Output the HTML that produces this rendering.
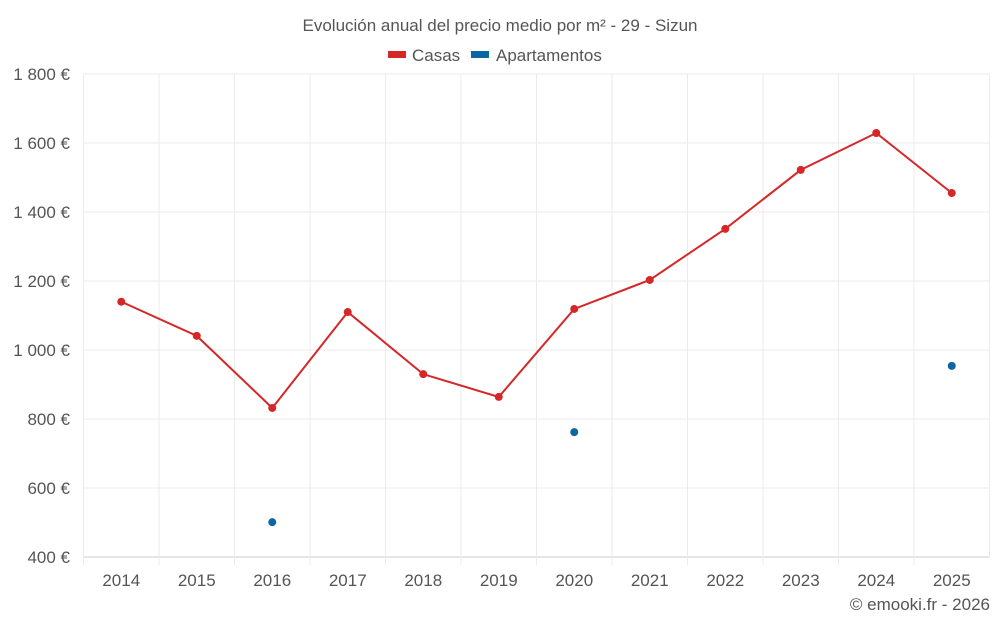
<!DOCTYPE html>
<html><head><meta charset="utf-8"><style>
body{margin:0;background:#fff;font-family:"Liberation Sans",sans-serif}
svg text{font-family:"Liberation Sans",sans-serif;fill:#555}
</style></head><body>
<svg id="chart" width="1000" height="625">
<text x="500" y="31" text-anchor="middle" font-size="17">Evolución anual del precio medio por m² - 29 - Sizun</text>
<g>
<rect x="388" y="51" width="18" height="7" fill="#d62728"/>
<text x="412" y="61" font-size="17">Casas</text>
<rect x="471" y="51" width="18" height="7" fill="#0b66a3"/>
<text x="496" y="61" font-size="17">Apartamentos</text>
</g>
<g id="grid"></g><g id="axes"></g><g id="series"></g>
<text x="990" y="610" text-anchor="end" font-size="17">© emooki.fr - 2026</text>
</svg>
<script>
const years=["2014","2015","2016","2017","2018","2019","2020","2021","2022","2023","2024","2025"];
const casas=[1140,1041,832,1110,930,864,1119,1203,1351,1522,1629,1455];
const apartamentos=[null,null,501,null,null,null,762,null,null,null,null,954];
const yTicks=[400,600,800,1000,1200,1400,1600,1800];
const yLabels=["400 €","600 €","800 €","1 000 €","1 200 €","1 400 €","1 600 €","1 800 €"];
const NS="http://www.w3.org/2000/svg";
const L=83.5,R=989.5,T=74,B=557,ymin=400,ymax=1800;
const bw=(R-L)/years.length;
const x=i=>L+bw*(i+0.5);
const y=v=>B-(v-ymin)/(ymax-ymin)*(B-T);
function mk(tag,attrs,parent){const e=document.createElementNS(NS,tag);for(const k in attrs)e.setAttribute(k,attrs[k]);parent.appendChild(e);return e;}
const grid=document.getElementById('grid'),axes=document.getElementById('axes'),ser=document.getElementById('series');
yTicks.forEach((v,i)=>{
 const ln=mk('line',{x1:L,x2:R,y1:y(v),y2:y(v),stroke:i==0?'#ccc':'#ebebeb'},grid);
 
 
 const t=mk('text',{x:70,y:y(v)+6,'text-anchor':'end','font-size':'17'},axes);
 t.textContent=yLabels[i];
 
 
});
for(let i=0;i<=years.length;i++){
 const gx=L+bw*i;
 const ln=mk('line',{x1:gx,x2:gx,y1:T,y2:B+(i<years.length?8:0),stroke:'#ebebeb'},grid);
 
 
}
years.forEach((yr,i)=>{
 const t=mk('text',{x:x(i),y:586,'text-anchor':'middle','font-size':'17'},axes);
 t.textContent=yr;
 
 
});
const pl=mk('polyline',{points:casas.map((v,i)=>x(i)+','+y(v)).join(' '),fill:'none',stroke:'#d62728','stroke-width':2},ser);


casas.forEach((v,i)=>{
 const c=mk('circle',{cx:x(i),cy:y(v),r:4,fill:'#d62728'},ser);
 
 
});
apartamentos.forEach((v,i)=>{
 if(v==null)return;
 const c=mk('circle',{cx:x(i),cy:y(v),r:4,fill:'#0b66a3'},ser);
 
 
});
</script>
</body></html>
